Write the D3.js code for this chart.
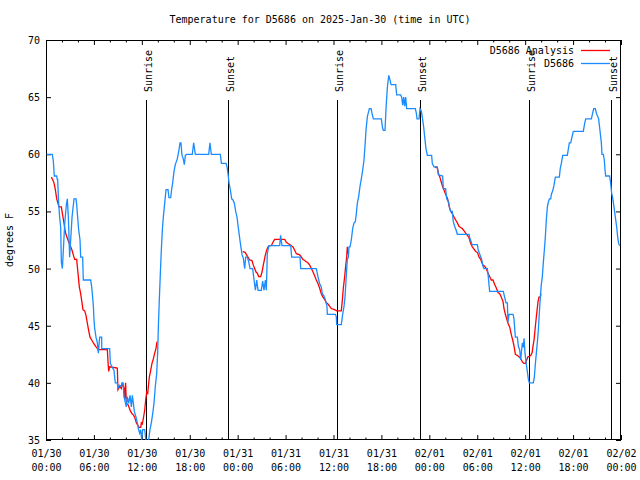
<!DOCTYPE html>
<html>
<head>
<meta charset="utf-8">
<script src="https://cdn.jsdelivr.net/npm/d3@7"></script>
<style>
  html, body { margin: 0; padding: 0; background: #fff; }
  svg { display: block; }
  text { font-family: "DejaVu Sans Mono", "Liberation Mono", monospace; font-size: 10px; fill: #000; }
</style>
</head>
<body>
<div id="chart"></div>
<script>
// ---------- DATA ----------
const titleText = "Temperature for D5686 on 2025-Jan-30 (time in UTC)";
const yLabel = "degrees F";
const startUTC = Date.UTC(2025, 0, 30, 0, 0);
const endUTC = Date.UTC(2025, 1, 2, 0, 0);
const yDomain = [35, 70];
const yTicks = [35, 40, 45, 50, 55, 60, 65, 70];
const seriesNames = ["D5686 Analysis", "D5686"];
const seriesColors = ["#ff0000", "#1a8cff"];

// [hours since 2025-01-30 00:00 UTC, temperature F]
const observed = [
[0.08,60.0],[0.79,60.0],[0.92,59.4],[1.04,58.1],[1.34,58.1],[1.40,57.8],[1.46,57.8],[1.59,55.6],[1.71,54.5],[1.84,53.6],[1.92,50.6],[2.05,50.0],[2.17,51.6],[2.34,53.9],[2.55,55.6],[2.67,56.1],[2.80,54.5],[2.96,51.0],[3.09,52.5],[3.26,54.5],[3.51,56.1],[3.76,56.1],[3.84,55.6],[3.96,54.5],[4.09,53.4],[4.26,52.5],[4.34,51.0],[4.59,51.0],[4.67,49.0],[5.59,49.0],[5.72,48.4],[5.84,47.5],[5.93,46.7],[6.01,45.5],[6.09,44.8],[6.26,44.0],[6.43,43.5],[6.55,42.6],[6.72,44.0],[6.97,44.0],[6.98,43.0],[7.97,43.0],[8.06,41.7],[8.26,41.4],[8.51,41.1],[8.68,40.0],[8.93,40.0],[9.01,39.5],[9.18,39.8],[9.43,39.7],[9.51,40.0],[9.64,40.0],[9.77,38.8],[9.89,38.4],[10.06,37.9],[10.18,38.8],[10.35,38.2],[10.52,38.9],[10.69,37.9],[10.81,38.9],[10.94,38.2],[11.06,37.5],[11.27,37.0],[11.44,36.5],[11.56,36.0],[11.73,35.6],[11.86,35.9],[11.98,35.0],[12.11,35.9],[12.36,35.9],[12.49,35.1],[12.65,34.8],[12.82,34.8],[13.02,35.9],[13.19,36.5],[13.36,37.3],[13.52,38.2],[13.69,39.7],[13.86,40.8],[13.98,42.6],[14.07,44.9],[14.19,47.3],[14.32,49.6],[14.44,51.6],[14.57,53.4],[14.69,54.5],[14.86,55.7],[15.03,56.9],[15.28,56.9],[15.40,56.2],[15.61,56.2],[15.73,56.9],[15.86,57.5],[16.03,58.5],[16.19,59.1],[16.44,59.6],[16.61,60.2],[16.78,61.0],[16.90,61.0],[17.03,59.9],[17.19,59.6],[17.32,59.1],[17.45,59.9],[17.61,60.0],[18.32,60.0],[18.49,61.0],[18.70,60.0],[20.37,60.0],[20.53,61.0],[20.70,60.0],[21.83,60.0],[21.96,59.2],[22.54,59.2],[22.67,58.9],[22.79,58.3],[22.92,57.5],[23.08,56.9],[23.25,56.1],[23.42,56.0],[23.59,55.7],[23.75,55.0],[23.92,54.5],[24.04,53.8],[24.17,53.1],[24.30,52.4],[24.42,51.8],[24.55,51.2],[24.71,50.9],[24.88,50.0],[25.00,51.0],[25.21,51.0],[25.38,50.6],[25.55,50.0],[25.88,50.0],[26.05,49.0],[26.22,48.1],[26.38,49.0],[26.55,48.1],[26.96,48.1],[27.13,48.9],[27.30,48.1],[27.47,49.0],[27.59,48.1],[27.71,51.3],[27.92,52.0],[29.26,52.0],[29.38,52.9],[29.55,52.0],[30.64,52.0],[30.76,51.0],[31.81,51.0],[31.89,50.0],[33.85,50.0],[34.05,49.3],[34.26,48.7],[34.47,48.4],[34.60,47.8],[34.81,47.6],[34.97,47.3],[35.18,46.7],[35.23,46.0],[36.23,46.0],[36.35,45.8],[36.40,45.1],[36.98,45.1],[37.15,46.0],[37.32,46.7],[37.44,47.5],[37.57,49.0],[37.73,50.8],[37.86,51.0],[37.94,51.9],[38.07,51.9],[38.23,52.5],[38.40,53.5],[38.57,54.0],[38.73,54.1],[38.86,54.8],[38.98,55.7],[39.15,56.3],[39.32,57.2],[39.49,57.9],[39.65,58.6],[39.82,59.5],[39.94,60.7],[40.07,62.1],[40.24,63.3],[40.49,64.0],[40.70,64.0],[40.82,63.6],[40.99,63.1],[41.99,63.1],[42.12,62.4],[42.24,62.1],[42.45,62.1],[42.59,64.2],[42.75,65.9],[42.92,66.9],[43.04,66.6],[43.21,66.1],[43.79,66.1],[43.91,65.2],[44.41,65.2],[44.54,65.0],[44.66,64.3],[44.79,65.0],[44.91,64.2],[45.04,65.0],[45.16,64.0],[46.25,64.0],[46.37,63.6],[46.46,63.1],[46.71,63.1],[46.83,64.0],[47.00,63.8],[47.13,63.2],[47.29,62.4],[47.42,61.5],[47.58,60.5],[47.75,59.9],[48.29,59.9],[48.37,59.2],[48.58,58.9],[49.00,58.9],[49.13,58.2],[49.67,58.1],[49.75,57.0],[50.04,57.0],[50.17,56.1],[50.42,55.8],[50.51,55.4],[50.67,55.0],[50.88,55.0],[51.00,54.1],[51.17,53.7],[51.34,53.4],[51.51,53.0],[52.97,53.0],[53.09,52.6],[53.26,52.3],[53.34,52.1],[54.01,52.1],[54.13,51.6],[54.35,51.2],[54.55,50.8],[54.72,50.2],[54.84,50.0],[55.26,50.0],[55.34,49.6],[55.55,48.0],[57.26,48.0],[57.43,47.5],[57.60,47.0],[57.77,47.0],[57.85,45.3],[57.98,46.0],[58.48,46.0],[58.60,45.6],[58.77,44.0],[59.02,44.0],[59.15,43.2],[59.31,42.9],[59.44,42.0],[59.56,42.9],[59.65,43.5],[59.77,43.1],[59.86,43.9],[59.98,42.6],[60.15,41.6],[60.27,41.0],[60.40,40.3],[60.52,40.0],[61.02,40.0],[61.15,40.5],[61.27,41.6],[61.40,42.6],[61.52,43.5],[61.65,44.6],[61.77,46.1],[61.90,47.5],[62.02,48.6],[62.15,49.3],[62.27,50.5],[62.40,51.6],[62.53,52.8],[62.65,54.25],[62.78,55.4],[62.90,55.8],[63.03,56.1],[63.20,56.1],[63.28,56.5],[63.45,56.8],[63.61,57.3],[63.78,58.0],[64.28,58.0],[64.40,58.8],[64.53,59.2],[64.70,59.9],[65.28,59.9],[65.37,60.3],[65.53,61.0],[65.70,61.0],[65.86,61.5],[66.03,62.0],[67.28,62.0],[67.45,62.7],[67.58,63.1],[68.29,63.1],[68.45,63.6],[68.58,64.0],[68.79,64.0],[68.91,63.6],[69.20,63.1],[69.33,62.3],[69.54,61.0],[69.62,60.0],[69.79,60.0],[69.91,59.5],[70.00,58.6],[70.08,58.1],[70.58,58.1],[70.70,57.5],[70.83,56.6],[70.95,56.2],[71.12,55.4],[71.29,54.5],[71.45,53.7],[71.58,52.8],[71.70,52.2],[71.83,52.0]
];

// analysis series: null marks a gap
const analysis = [
[0.67,58.0],[0.88,57.7],[1.00,57.5],[1.17,56.9],[1.34,56.1],[1.50,55.7],[1.63,55.4],[1.92,55.4],[2.05,54.8],[2.25,54.0],[2.42,53.2],[2.59,52.8],[2.75,52.5],[2.92,52.2],[3.09,51.9],[3.26,51.6],[3.42,51.2],[3.59,50.8],[3.84,50.8],[3.92,50.2],[4.05,49.3],[4.17,48.4],[4.34,47.8],[4.51,47.0],[4.63,46.4],[4.84,46.3],[5.01,45.9],[5.18,45.2],[5.34,44.6],[5.51,44.0],[5.72,43.75],[5.93,43.5],[6.22,43.2],[6.55,42.9],[7.68,42.9],[7.76,41.9],[7.85,41.0],[7.97,41.4],[8.93,41.3],[9.01,39.4],[9.26,39.7],[9.43,39.5],[9.60,40.0],[9.77,39.5],[9.85,38.6],[9.97,40.0],[10.06,38.2],[10.27,38.1],[10.43,37.8],[10.60,37.5],[10.77,37.3],[10.94,37.2],[11.10,37.0],[11.31,36.5],[11.48,36.3],[11.64,36.1],[11.86,36.1],[11.94,36.5],[12.06,36.4],[12.19,36.9],[12.36,37.6],[12.48,38.5],[12.61,39.2],[12.73,39.0],[12.82,39.7],[12.94,40.5],[13.11,41.1],[13.27,41.7],[13.44,42.1],[13.61,42.6],[13.77,43.0],[13.90,43.6],
null,
[24.63,51.5],[24.95,51.4],[25.12,51.2],[25.29,51.0],[25.50,50.75],[25.79,50.7],[25.96,50.3],[26.13,50.0],[26.30,49.7],[26.46,49.6],[26.63,49.3],[26.88,49.3],[27.05,49.7],[27.21,50.3],[27.34,50.75],[27.47,51.2],[27.63,51.6],[27.80,51.9],[28.00,52.0],[28.21,52.0],[28.42,52.3],[28.63,52.55],[29.89,52.55],[30.09,52.3],[30.30,52.2],[30.51,52.1],[30.72,52.0],[30.93,51.9],[31.14,51.6],[31.35,51.3],[31.77,51.2],[31.98,51.0],[32.18,50.8],[32.39,50.7],[32.60,50.6],[32.81,50.5],[33.02,50.3],[33.23,50.0],[33.44,49.7],[33.65,49.35],[33.85,49.0],[34.05,48.7],[34.26,48.3],[34.47,47.8],[34.68,47.5],[34.89,47.3],[35.10,47.0],[35.31,46.9],[35.52,46.7],[35.73,46.5],[36.14,46.4],[36.40,46.3],[36.98,46.3],[37.11,47.25],[37.23,48.3],[37.40,49.3],[37.52,50.2],[37.65,51.0],[37.73,51.9],[37.82,51.3],[37.90,51.3],
null,
[48.71,58.9],[49.00,58.8],[49.15,58.3],[49.32,58.0],[49.48,57.6],[49.65,57.2],[49.82,56.9],[49.99,56.6],[50.17,56.3],[50.33,56.0],[50.50,55.4],[50.67,55.0],[50.88,54.8],[51.09,54.5],[51.30,54.25],[51.51,54.0],[51.71,53.7],[51.92,53.6],[52.13,53.5],[52.35,53.3],[52.55,53.1],[52.76,52.9],[52.97,52.7],[53.18,52.2],[53.39,51.9],[53.60,51.7],[53.81,51.5],[54.03,51.4],[54.23,51.0],[54.44,50.8],[54.64,50.4],[54.72,50.3],[54.93,50.2],[55.13,50.0],[55.34,49.6],[55.55,49.3],[55.76,49.0],[55.97,49.0],[56.18,48.6],[56.39,48.3],[56.60,47.9],[56.81,47.8],[57.02,47.5],[57.23,47.1],[57.35,46.5],[57.52,46.0],[57.69,45.6],[57.86,45.2],[58.06,44.9],[58.27,44.2],[58.44,43.75],[58.61,43.2],[58.77,42.5],[59.02,42.4],[59.19,42.3],[59.36,42.2],[59.53,42.0],[59.69,41.8],[59.86,41.7],[60.03,41.7],[60.19,42.0],[60.36,42.3],[60.53,42.3],[60.70,42.4],[60.86,42.6],[60.98,43.2],[61.11,43.75],[61.23,44.6],[61.36,45.5],[61.48,46.3],[61.61,47.1],[61.73,47.5],[61.90,47.5],[61.98,47.8]
];

// sun events: hours since start
const sunLabels = ["Sunrise", "Sunset", "Sunrise", "Sunset", "Sunrise", "Sunset"];
const sunHours = [12.56, 22.83, 36.48, 46.87, 60.52, 70.79];

// ---------- CHART ----------
const W = 640, H = 480;
const M = { left: 46, right: 19, top: 40, bottom: 40 };
const HOUR = 3600 * 1000;
const toDate = h => new Date(startUTC + h * HOUR);

const svg = d3.select("#chart").append("svg").attr("width", W).attr("height", H);

const x = d3.scaleUtc().domain([new Date(startUTC), new Date(endUTC)]).range([M.left, W - M.right]);
const y = d3.scaleLinear().domain(yDomain).range([H - M.bottom, M.top]);
const plotH = (H - M.bottom) - M.top;

svg.append("defs").append("clipPath").attr("id", "clip")
  .append("rect").attr("x", M.left).attr("y", M.top)
  .attr("width", W - M.left - M.right).attr("height", plotH);

// title
svg.append("text").attr("x", 320).attr("y", 23).attr("text-anchor", "middle").text(titleText);

// y label
svg.append("text").attr("transform", `translate(13,${(M.top + H - M.bottom) / 2}) rotate(-90)`)
  .attr("text-anchor", "middle").text(yLabel);

// ticks
const majorTicks = d3.utcHour.every(6).range(new Date(startUTC), new Date(endUTC + 1));
const minorTicks = d3.utcHour.every(2).range(new Date(startUTC), new Date(endUTC + 1))
  .filter(d => d.getUTCHours() % 6 !== 0);
const fmtDate = d3.utcFormat("%m/%d");
const fmtTime = d3.utcFormat("%H:%M");

const styleAxis = g => {
  g.select(".domain").remove();
  g.selectAll(".tick line").attr("stroke", "#000").attr("stroke-width", 1);
  g.selectAll(".tick text").attr("font-family", null).attr("font-size", null);
  g.attr("font-family", null).attr("font-size", null);
};

// bottom major
const gB = svg.append("g").attr("transform", `translate(0,${H - M.bottom})`)
  .call(d3.axisBottom(x).tickValues(majorTicks).tickSize(-5).tickSizeOuter(0).tickFormat(() => ""))
  .call(styleAxis);
gB.selectAll(".tick text").each(function (d) {
  const t = d3.select(this).attr("y", 0).attr("dy", null);
  t.append("tspan").attr("x", 0).attr("y", 17).text(fmtDate(d));
  t.append("tspan").attr("x", 0).attr("y", 31).text(fmtTime(d));
});
svg.append("g").attr("transform", `translate(0,${H - M.bottom})`)
  .call(d3.axisBottom(x).tickValues(minorTicks).tickSize(-2.5).tickSizeOuter(0).tickFormat(() => ""))
  .call(styleAxis);
// top mirrored
svg.append("g").attr("transform", `translate(0,${M.top})`)
  .call(d3.axisTop(x).tickValues(majorTicks).tickSize(-5).tickSizeOuter(0).tickFormat(() => ""))
  .call(styleAxis);
svg.append("g").attr("transform", `translate(0,${M.top})`)
  .call(d3.axisTop(x).tickValues(minorTicks).tickSize(-2.5).tickSizeOuter(0).tickFormat(() => ""))
  .call(styleAxis);
// left
const gL = svg.append("g").attr("transform", `translate(${M.left},0)`)
  .call(d3.axisLeft(y).tickValues(yTicks).tickSize(-5).tickSizeOuter(0).tickPadding(6).tickFormat(d3.format("d")))
  .call(styleAxis);
gL.selectAll(".tick text").attr("dy", "0.35em");
// right mirrored
svg.append("g").attr("transform", `translate(${W - M.right},0)`)
  .call(d3.axisRight(y).tickValues(yTicks).tickSize(-5).tickSizeOuter(0).tickFormat(() => ""))
  .call(styleAxis);

// frame
svg.append("rect").attr("x", M.left + 0.5).attr("y", M.top + 0.5)
  .attr("width", W - M.left - M.right - 1).attr("height", plotH - 1)
  .attr("fill", "none").attr("stroke", "#000").attr("stroke-width", 1);

// sun lines
const sun = svg.append("g");
sunHours.forEach((h, i) => {
  const xp = Math.round(x(toDate(h))) + 0.5;
  sun.append("line").attr("x1", xp).attr("x2", xp)
    .attr("y1", H - M.bottom - 0.85 * plotH).attr("y2", H - M.bottom)
    .attr("stroke", "#000").attr("stroke-width", 1);
  sun.append("text")
    .attr("transform", `translate(${xp + 5},${H - M.bottom - 0.87 * plotH}) rotate(-90)`)
    .attr("text-anchor", "start").text(sunLabels[i]);
});

// series
const line = d3.line()
  .defined(d => d !== null)
  .x(d => x(toDate(d[0])))
  .y(d => y(d[1]));

const plot = svg.append("g").attr("clip-path", "url(#clip)");
plot.append("path").datum(analysis).attr("d", line)
  .attr("fill", "none").attr("stroke", seriesColors[0]).attr("stroke-width", 1.3);
plot.append("path").datum(observed).attr("d", line)
  .attr("fill", "none").attr("stroke", seriesColors[1]).attr("stroke-width", 1.3);

// legend
const legX = 574, legY0 = 50, legStep = 13;
seriesNames.forEach((name, i) => {
  const ly = legY0 + i * legStep;
  svg.append("text").attr("x", legX).attr("y", ly).attr("dy", "0.35em")
    .attr("text-anchor", "end").text(name);
  svg.append("line").attr("x1", 581).attr("x2", 610).attr("y1", ly + 0.5).attr("y2", ly + 0.5)
    .attr("stroke", seriesColors[i]).attr("stroke-width", 1.3);
});
</script>
</body>
</html>
